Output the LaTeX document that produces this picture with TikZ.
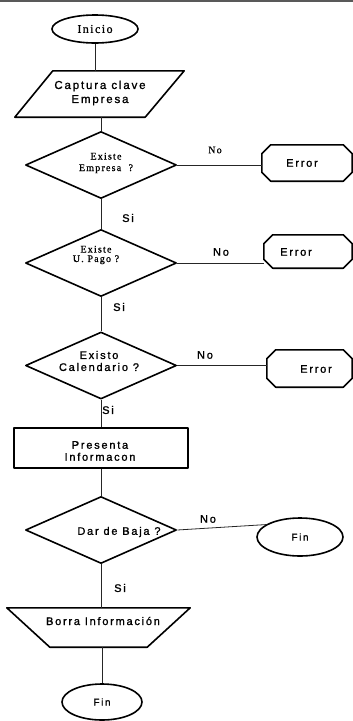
\documentclass[tikz,border=0pt]{standalone}
\usepackage{fontspec}
\setmainfont{Liberation Sans}[LetterSpace=16, FakeBold=1.2]
\newfontfamily\scanserif{Liberation Serif}[LetterSpace=12, FakeBold=0.8]
\usetikzlibrary{shapes.geometric}

\tikzset{
  outline/.style={draw=black, line width=1.6pt, line join=round},
  link/.style={draw=black!85, line width=0.8pt},
  lbl/.style={inner sep=0pt, align=center, font=\fontsize{11}{12}\selectfont},
  scan/.style={inner sep=0pt, align=center, font=\scanserif\fontsize{10}{11}\selectfont},
  terminal/.style={outline, ellipse, inner sep=0pt},
  decision/.style={outline, diamond, inner sep=0pt, minimum width=151pt, minimum height=67pt},
}

% octagonal frame drawn around a (blank) rectangular node
\newcommand\octagonframe[2]{%
  \draw[outline] ([xshift=#2]#1.north west) -- ([xshift=-#2]#1.north east)
    -- ([yshift=-#2]#1.north east) -- ([yshift=#2]#1.south east)
    -- ([xshift=-#2]#1.south east) -- ([xshift=#2]#1.south west)
    -- ([yshift=#2]#1.south west) -- ([yshift=-#2]#1.north west) -- cycle;}

\begin{document}
\begin{tikzpicture}[x=1pt,y=-1pt]
\useasboundingbox (0,0) rectangle (353,721);

% scanned edge along the top
\draw[black!65, line width=2pt] (0,1) -- (353,1);

% start
\node[terminal, minimum width=86pt, minimum height=28pt,
      font=\scanserif\fontsize{12}{12}\selectfont] (inicio) at (95,29) {Inicio};

% input: company key
\node[inner sep=0pt, minimum width=169pt, minimum height=46pt] (captura) at (99.5,94) {};
\draw[outline] ([xshift=38pt]captura.north west) -- (captura.north east)
  -- ([xshift=-39pt]captura.south east) -- (captura.south west) -- cycle;
\node[lbl, font=\fontsize{11.5}{14}\selectfont] (capturatext) at (100,93) {Captura clave\\Empresa};

% decision 1
\node[decision] (d1) at (101,165) {};
\node[scan, font=\scanserif\fontsize{10}{11.5}\selectfont] (d1text) at (106,163) {Existe\\Empresa~~?};
\node[inner sep=0pt, minimum width=90pt, minimum height=36pt] (e1) at (307,163) {};
\octagonframe{e1}{9pt}
\node[lbl] (e1text) at (302,163) {Error};

% decision 2
\node[decision] (d2) at (101,263) {};
\node[scan, font=\scanserif\fontsize{10}{9.5}\selectfont] (d2text) at (96,255) {Existe\\U. Pago ?};
\node[inner sep=0pt, minimum width=88pt, minimum height=33pt] (e2) at (308,251.5) {};
\octagonframe{e2}{9pt}
\node[lbl] (e2text) at (296,252) {Error};

% decision 3
\node[decision] (d3) at (101,365.5) {};
\node[lbl] (d3text) at (99,361) {Existo\\Calendario ?};
\node[inner sep=0pt, minimum width=85pt, minimum height=37pt] (e3) at (309.5,368.5) {};
\octagonframe{e3}{9pt}
\node[lbl] (e3text) at (316,369) {Error};

% process
\node[outline, inner sep=0pt, minimum width=174pt, minimum height=40pt] (presenta) at (101,448) {};
\node[lbl] (presentatext) at (100,451) {Presenta\\Informacon};

% decision 4
\node[decision] (d4) at (101,530) {};
\node[lbl] (d4text) at (119,532) {Dar de Baja ?};
\node[terminal, minimum width=86pt, minimum height=38pt] (fin1) at (300,537) {Fin};

% manual operation
\node[inner sep=0pt, minimum width=183pt, minimum height=39pt] (borra) at (98.5,627.5) {};
\draw[outline] (borra.north west) -- (borra.north east)
  -- ([xshift=-43pt]borra.south east) -- ([xshift=43pt]borra.south west) -- cycle;
\node[lbl] (borratext) at (103,621) {Borra Información};

% end
\node[terminal, minimum width=80pt, minimum height=36pt] (fin2) at (102,702) {Fin};

% connectors
\draw[link] (inicio.south) -- (inicio.south |- captura.north);
\draw[link] (captura.south -| d1.north) -- (d1.north);
\draw[link] (d1.east) -- (d1.east -| e1.west);
\draw[link] (d1.south) -- (d2.north);
\draw[link] (d2.east) -- (d2.east -| e2.west);
\draw[link] (d2.south) -- (d3.north);
\draw[link] (d3.east) -- (d3.east -| e3.west);
\draw[link] (d3.south) -- (d3.south |- presenta.north);
\draw[link] (presenta.south) -- (d4.north);
\draw[link] (d4.east) -- (fin1.160);
\draw[link] (d4.south) -- (d4.south |- borra.north);
\draw[link] (fin2.north |- borra.south) -- (fin2.north);

% branch labels
\node[scan, font=\scanserif\fontsize{10}{10}\selectfont] (no1) at (215,150) {No};
\node[lbl] (no2) at (221,252) {No};
\node[lbl] (no3) at (205,355) {No};
\node[lbl] (no4) at (208,519) {No};
\node[lbl] (si1) at (128,218) {Si};
\node[lbl] (si2) at (119,307) {Si};
\node[lbl] (si3) at (108,410) {Si};
\node[lbl] (si4) at (120,588) {Si};
\end{tikzpicture}
\end{document}
